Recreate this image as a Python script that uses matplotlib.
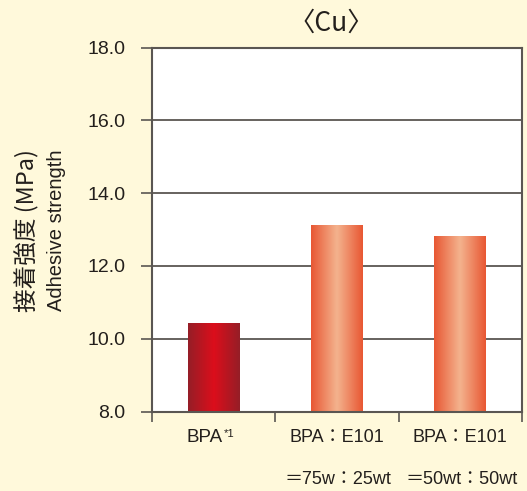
import numpy as np
import matplotlib
matplotlib.use("Agg")
import matplotlib.pyplot as plt
from matplotlib.colors import LinearSegmentedColormap

# Data
categories = ["BPA", "BPA：E101\n＝75w：25wt", "BPA：E101\n＝50wt：50wt"]
values = [10.4, 13.1, 12.8]
y_ticks = [8.0, 10.0, 12.0, 14.0, 16.0, 18.0]

BG = "#FFF9DB"
LINE = "#5A5652"
TEXT = "#231F1C"
FONT = ["Liberation Sans", "Noto Sans CJK JP", "DejaVu Sans"]
plt.rcParams["font.family"] = FONT

fig = plt.figure(figsize=(5.27, 4.91), dpi=100, facecolor=BG)
ax = fig.add_axes([152 / 527, 1 - 411.5 / 491, 370 / 527, 364 / 491])
ax.set_facecolor("white")

ymin, ymax = 8.0, 18.0

# horizontal gridlines
for t in y_ticks:
    ax.axhline(t, color=LINE, lw=1.3, zorder=1)

# gradient-filled bars
dark_red = LinearSegmentedColormap.from_list(
    "dark_red", ["#951E27", "#DC0E1B", "#951E27"])
orange = LinearSegmentedColormap.from_list(
    "orange", ["#E85733", "#F4B38E", "#E85733"])
cmaps = [dark_red, orange, orange]
width = 0.42
grad = np.linspace(0, 1, 256).reshape(1, -1)
for i, (v, cm) in enumerate(zip(values, cmaps)):
    ax.imshow(grad, cmap=cm, aspect="auto", interpolation="bicubic",
              extent=(i - width / 2, i + width / 2, ymin, v), zorder=2)

ax.set_xlim(-0.5, len(values) - 0.5)
ax.set_ylim(ymin, ymax)

for s in ax.spines.values():
    s.set_color(LINE)
    s.set_linewidth(1.5)
    s.set_zorder(3)

ax.set_yticks(y_ticks)
ax.set_yticklabels([f"{t:.1f}" for t in y_ticks])
ax.tick_params(axis="y", direction="out", length=8, width=1.2, color=LINE,
               labelsize=14, labelcolor=TEXT, pad=11)

# x ticks sit on category boundaries; labels are drawn as text
ax.set_xticks(np.arange(-0.5, len(values), 1.0))
ax.set_xticklabels([])
ax.tick_params(axis="x", direction="out", length=7, width=1.2, color=LINE)

trans = ax.get_xaxis_transform()
ax.text(0.076, -0.072, categories[0], transform=trans, ha="right",
        va="center", fontsize=13.5, color=TEXT)
ax.text(0.085, -0.062, "*1", transform=trans, ha="left", va="center",
        fontsize=8, color=TEXT)
for i in (1, 2):
    top, bottom = categories[i].split("\n")
    ax.text(i, -0.072, top, transform=trans, ha="center", va="center",
            fontsize=13, color=TEXT)
    ax.text(i + 0.01, -0.186, bottom, transform=trans, ha="center",
            va="center", fontsize=13, color=TEXT)

# title and axis label
fig.text(331 / 527, 1 - 23 / 491, "〈Cu〉", ha="center", va="center",
         fontsize=19, color=TEXT, family=["Noto Sans CJK JP", "DejaVu Sans"])
fig.text(27 / 527, 1 - 231 / 491, "接着強度 (MPa)", rotation=90,
         ha="center", va="center", fontsize=17, color=TEXT,
         family=["Noto Sans CJK JP", "DejaVu Sans"])
fig.text(56 / 527, 1 - 230 / 491, "Adhesive strength", rotation=90,
         ha="center", va="center", fontsize=14.5, color=TEXT)

fig.savefig("out.png", dpi=100, facecolor=BG)
